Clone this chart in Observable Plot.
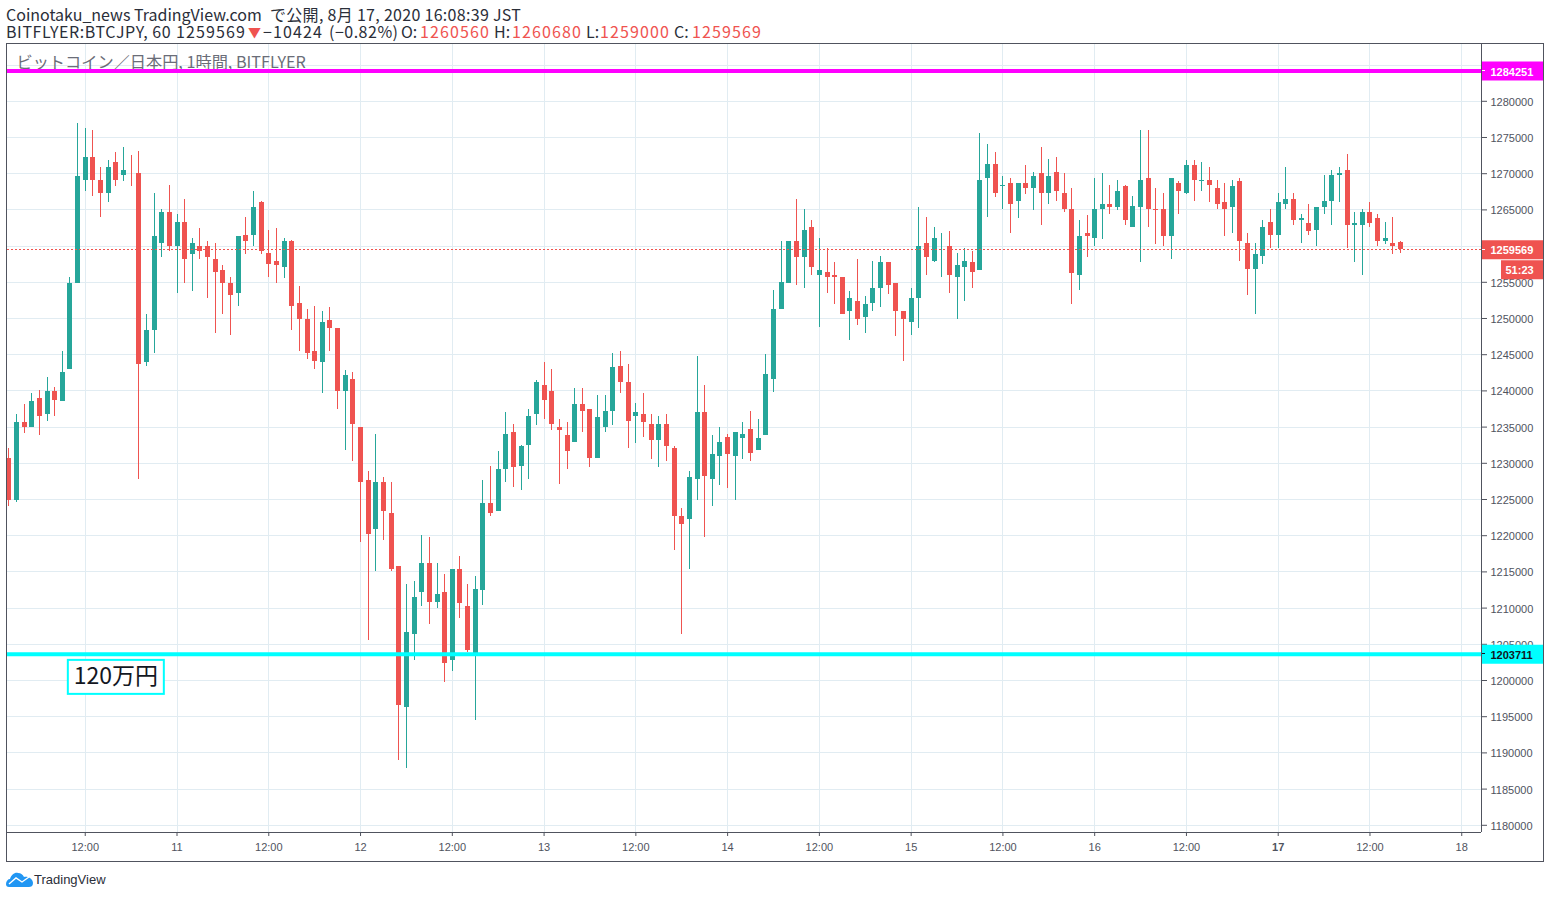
<!DOCTYPE html>
<html lang="ja">
<head>
<meta charset="utf-8">
<style>
html,body{margin:0;padding:0;background:#fff;width:1550px;height:898px;overflow:hidden}
#head{position:absolute;left:0;top:0;width:1550px;height:43px;font:16px/17px "Noto Sans CJK JP","Noto Sans",sans-serif;color:#2a2e39;white-space:nowrap}
#head span{position:absolute}
#head .n{letter-spacing:1.1px;top:23px}
#head .l{top:23px}
#head .v{color:#ef5350}
#frame{position:absolute;left:6px;top:43px;width:1536px;height:817px;border:1px solid #50535e;pointer-events:none}
#chart{position:absolute;left:0;top:44px}
#foot{position:absolute;left:6px;top:871px;display:flex;align-items:center;font:13px/17px "Liberation Sans",sans-serif;color:#2a2e39}
</style>
<script src="https://cdn.jsdelivr.net/npm/d3@7"></script>
<script src="https://cdn.jsdelivr.net/npm/@observablehq/plot@0.6"></script>
</head>
<body>
<div id="head">
<span style="left:6px;top:6px">Coinotaku_news TradingView.com</span>
<span style="left:270px;top:6px;letter-spacing:.3px">で公開, 8月 17, 2020 16:08:39 JST</span>
<span class="l" style="left:6px;letter-spacing:.6px">BITFLYER:BTCJPY, 60</span>
<span class="n" style="left:176px">1259569</span>
<span class="l v" style="left:248px;font-size:13px">▼</span>
<span class="n" style="left:263px">−10424</span>
<span class="n" style="left:329px;letter-spacing:.5px">(−0.82%)</span>
<span class="l" style="left:401px">O:</span><span class="n v" style="left:420px">1260560</span>
<span class="l" style="left:494px">H:</span><span class="n v" style="left:512px">1260680</span>
<span class="l" style="left:586px">L:</span><span class="n v" style="left:600px">1259000</span>
<span class="l" style="left:674px">C:</span><span class="n v" style="left:692px">1259569</span>
</div>
<div id="chart"></div>
<div id="frame"></div>
<div id="foot"><svg width="28" height="17" viewBox="0 0 28 17"><path d="M0 13 C0 10 2 8 4 8 C5 4 9 1 12 2 C15 2 17 4 18 6 C22 5 27 8 27 12 C27 15 25 16 23 16 L3 16 C1 16 0 15 0 13Z" fill="#2196f3"/><path d="M3 13 L10 7 L16 11 L23 6" fill="none" stroke="#fff" stroke-width="1.4"/></svg>TradingView</div>
<script>
// Hourly candles, 10 Aug 2020 02:00 JST onward, prices in thousands of yen
const opens = [1230.6,1224.8,1235.7,1234.9,1239.0,1236.7,1239.9,1238.5,1242.9,1254.9,1269.0,1272.3,1269.1,1267.3,1271.5,1269.8,1270.5,1270.0,1243.9,1248.3,1260.4,1264.6,1260.0,1263.2,1258.9,1260.0,1259.9,1258.2,1256.6,1254.9,1253.5,1261.5,1261.4,1266.0,1259.0,1257.9,1257.0,1260.7,1252.1,1249.9,1245.4,1243.9,1249.7,1248.6,1239.9,1241.6,1234.9,1227.6,1220.9,1227.3,1223.1,1215.7,1196.3,1206.3,1212.1,1216.2,1210.8,1212.1,1202.7,1215.4,1210.2,1203.7,1212.5,1224.5,1223.4,1229.2,1234.2,1229.5,1232.4,1236.8,1240.8,1239.9,1234.9,1233.9,1232.9,1238.1,1237.4,1230.7,1234.9,1237.2,1243.4,1241.2,1236.5,1236.7,1235.4,1233.2,1235.3,1232.0,1222.7,1222.2,1227.7,1237.0,1227.8,1231.0,1233.5,1230.9,1233.4,1234.6,1231.8,1233.8,1241.6,1251.3,1254.9,1260.6,1258.4,1262.6,1255.9,1256.4,1255.9,1255.7,1250.9,1252.4,1250.2,1252.1,1254.1,1257.7,1254.8,1250.9,1249.5,1252.8,1260.4,1257.9,1259.9,1260.0,1255.6,1257.1,1257.8,1256.6,1269.4,1271.3,1268.2,1268.6,1266.1,1268.7,1267.9,1270.0,1267.2,1270.2,1267.3,1265.0,1255.9,1261.7,1261.0,1265.0,1265.8,1265.3,1268.3,1262.6,1265.4,1269.4,1265.0,1265.1,1261.3,1268.6,1267.3,1271.2,1268.9,1269.0,1268.0,1266.0,1265.4,1268.9,1260.4,1256.8,1258.5,1263.2,1261.5,1265.8,1266.4,1263.6,1263.1,1262.2,1265.3,1266.2,1269.7,1270.4,1262.9,1262.9,1264.7,1263.8,1260.6,1260.3,1260.56];
const highs = [1232.0,1236.8,1238.1,1239.6,1240.0,1241.9,1240.5,1245.4,1255.6,1277.0,1276.2,1276.0,1270.9,1271.8,1272.9,1273.6,1272.5,1273.0,1250.5,1267.2,1265.0,1268.4,1264.4,1266.4,1261.0,1262.4,1260.7,1260.3,1257.3,1255.6,1261.3,1264.0,1267.5,1266.2,1262.2,1262.4,1261.0,1260.8,1254.4,1251.3,1251.7,1251.0,1251.5,1248.6,1242.8,1242.6,1235.0,1228.8,1234.0,1228.0,1227.4,1215.7,1213.3,1213.7,1220.0,1219.8,1216.2,1214.7,1215.4,1217.1,1213.2,1214.4,1227.6,1229.5,1231.6,1237.0,1235.3,1232.4,1237.5,1241.5,1243.9,1243.0,1236.1,1235.7,1240.4,1240.4,1237.4,1239.3,1239.3,1245.2,1245.4,1243.6,1238.2,1239.7,1236.8,1236.5,1236.7,1232.3,1223.8,1228.9,1244.7,1240.7,1233.8,1235.0,1234.0,1234.3,1235.6,1237.2,1236.0,1245.0,1253.9,1260.6,1260.6,1266.5,1265.0,1263.6,1261.0,1259.7,1257.7,1255.7,1253.7,1258.1,1253.0,1257.9,1258.6,1257.7,1254.8,1250.9,1254.1,1265.3,1264.0,1262.5,1261.7,1262.0,1259.0,1259.6,1259.2,1275.6,1274.0,1272.9,1269.6,1269.4,1268.7,1271.2,1270.1,1273.6,1272.0,1272.2,1270.0,1267.9,1263.5,1264.2,1269.4,1270.0,1268.4,1269.0,1268.4,1266.9,1276.0,1276.0,1267.9,1267.3,1269.3,1268.9,1271.8,1271.8,1271.5,1270.8,1269.0,1268.7,1269.1,1269.4,1261.8,1260.4,1263.5,1265.0,1267.3,1270.8,1267.2,1264.3,1265.7,1265.4,1269.7,1270.4,1270.9,1272.7,1264.6,1265.0,1266.0,1264.4,1263.3,1264.0,1260.68];
const lows = [1224.0,1224.6,1234.1,1234.9,1233.9,1235.8,1236.4,1238.5,1242.9,1254.9,1267.5,1266.8,1264.0,1266.0,1268.2,1268.9,1268.3,1227.8,1243.4,1245.2,1258.4,1259.3,1253.4,1254.8,1253.7,1258.1,1252.8,1247.9,1250.6,1247.6,1251.6,1258.8,1259.9,1258.9,1255.7,1254.9,1255.5,1248.4,1245.5,1244.4,1242.9,1239.7,1245.5,1237.4,1231.8,1230.2,1219.1,1205.5,1215.0,1219.4,1215.0,1188.9,1187.8,1202.7,1210.2,1207.8,1209.9,1199.7,1201.2,1208.6,1203.9,1194.5,1210.4,1222.7,1223.4,1227.3,1226.6,1226.2,1227.8,1235.2,1236.0,1234.5,1227.1,1229.1,1232.9,1234.2,1229.4,1230.7,1234.3,1235.2,1239.6,1232.1,1232.8,1233.6,1230.5,1229.4,1230.2,1217.9,1206.4,1215.4,1224.9,1219.8,1224.1,1226.9,1226.5,1224.8,1230.5,1230.2,1231.8,1233.8,1239.8,1251.3,1254.9,1254.5,1254.2,1255.9,1248.8,1253.4,1251.9,1250.5,1246.9,1249.0,1247.9,1250.9,1251.5,1253.3,1247.5,1244.1,1247.7,1248.6,1255.9,1257.7,1255.7,1253.4,1249.8,1252.3,1254.1,1256.6,1263.9,1266.7,1265.0,1261.8,1263.8,1267.1,1264.9,1262.9,1265.8,1266.2,1264.6,1252.0,1253.9,1258.4,1259.9,1260.9,1264.3,1264.9,1262.8,1262.6,1257.8,1262.6,1260.2,1259.9,1258.2,1264.3,1267.1,1266.1,1267.5,1266.0,1265.0,1261.3,1261.8,1257.9,1253.2,1250.5,1257.4,1259.7,1259.7,1265.0,1262.9,1260.4,1261.4,1259.9,1264.4,1262.9,1266.0,1259.7,1257.8,1256.0,1262.6,1260.0,1260.2,1258.9,1259.0];
const closes = [1224.8,1235.7,1235.0,1238.5,1236.5,1239.9,1238.7,1242.5,1254.8,1269.6,1272.3,1269.0,1267.2,1270.8,1269.1,1270.5,1270.4,1243.7,1248.4,1261.3,1264.6,1259.9,1263.2,1258.2,1260.3,1259.2,1258.4,1256.4,1254.8,1253.2,1261.3,1260.7,1265.4,1259.3,1257.4,1257.3,1260.7,1251.6,1249.8,1245.2,1244.0,1249.4,1248.6,1239.9,1242.1,1235.3,1227.4,1220.2,1227.3,1223.3,1215.4,1196.5,1206.6,1211.5,1216.2,1210.8,1211.9,1202.3,1215.4,1210.6,1204.2,1212.6,1224.5,1223.0,1229.1,1234.0,1229.4,1232.3,1236.5,1241.2,1238.7,1235.3,1234.5,1231.6,1238.1,1237.2,1230.7,1236.3,1237.2,1243.2,1241.1,1235.8,1237.0,1235.7,1233.2,1235.3,1232.3,1222.6,1221.6,1228.0,1237.0,1228.2,1231.2,1232.9,1231.2,1234.3,1234.0,1231.3,1233.4,1242.3,1251.3,1255.0,1260.6,1258.4,1262.1,1257.1,1256.6,1255.7,1255.6,1250.5,1252.7,1249.8,1252.0,1254.2,1257.7,1254.6,1251.0,1249.8,1252.7,1260.0,1258.4,1261.1,1260.0,1255.9,1257.3,1257.9,1256.3,1269.1,1271.3,1267.2,1268.4,1265.8,1268.7,1267.9,1269.6,1267.2,1269.6,1267.5,1265.1,1256.2,1261.3,1261.3,1265.1,1265.8,1265.3,1267.5,1263.6,1265.5,1269.0,1265.1,1264.9,1261.3,1269.3,1267.6,1271.2,1269.0,1269.0,1268.4,1265.8,1265.0,1268.2,1260.7,1256.8,1258.9,1262.6,1261.5,1266.0,1266.4,1263.6,1263.8,1262.0,1265.4,1266.1,1269.8,1270.0,1262.9,1263.1,1264.7,1263.1,1260.6,1261.0,1260.0,1259.569];

const firstCandle = Date.UTC(2020, 7, 10, 2);
const hour = 3600000;
const candles = opens.map((o, i) => ({
  t: new Date(firstCandle + i * hour),
  o: o * 1000, h: highs[i] * 1000, l: lows[i] * 1000, c: closes[i] * 1000
}));

const up = "#26a69a", down = "#ef5350", grid = "#e1ecf2", axisColor = "#50535e";
const colorOf = d => d.c >= d.o ? up : down;

const yTicks = [1180000,1185000,1190000,1195000,1200000,1205000,1210000,1215000,1220000,1225000,1230000,1235000,1240000,1245000,1250000,1255000,1260000,1265000,1270000,1275000,1280000,1285000];
const xDays = ["2020-08-11","2020-08-12","2020-08-13","2020-08-14","2020-08-15","2020-08-16","2020-08-18"];
const xNoons = ["2020-08-10","2020-08-11","2020-08-12","2020-08-13","2020-08-14","2020-08-15","2020-08-16","2020-08-17"];
const dayTicks = xDays.map(d => new Date(d + "T00:00Z"));
const noonTicks = xNoons.map(d => new Date(d + "T12:00Z"));
const boldDay = [new Date("2020-08-17T00:00Z")];
const allX = [...dayTicks, ...boldDay, ...noonTicks];

const resistance = 1284251, support = 1203711, lastPrice = 1259569;
const priceTags = [
  {p: resistance, bg: "#ff00ff", fg: "#ffffff"},
  {p: lastPrice, bg: down, fg: "#ffffff"},
  {p: support, bg: "#00ffff", fg: "#131722"}
];
const note = {t: new Date(Date.UTC(2020, 7, 10, 16)), p: 1200500, text: "120万円"};
const symbolTitle = "ビットコイン／日本円, 1時間, BITFLYER";
const countdown = "51:23";

const axisFont = '"Liberation Sans",sans-serif';
const xFmt = d => d.getUTCHours() === 12 ? "12:00" : String(d.getUTCDate());
const frameWidth = 1474;
const xEnd = new Date(Date.UTC(2020, 7, 18, 2, 35));
const yLow = 1179006;

const plot = Plot.plot({
  width: 1550, height: 818,
  marginLeft: 7, marginRight: 69, marginTop: 0, marginBottom: 30,
  style: {background: "#fff", overflow: "visible"},
  x: {type: "utc", domain: [new Date(Date.UTC(2020, 7, 10, 1, 50)), xEnd]},
  y: {domain: [yLow, 1287845]},
  marks: [
    Plot.ruleY(yTicks, {stroke: grid, shapeRendering: "crispEdges"}),
    Plot.ruleX(allX, {stroke: grid, shapeRendering: "crispEdges"}),
    Plot.axisY({anchor: "right", ticks: yTicks, tickFormat: null, text: null, label: null, tickSize: 5, color: axisColor}),
    Plot.text(yTicks, {y: d => d, text: d => String(d), frameAnchor: "right", textAnchor: "start", dx: 9, dy: 1, fontSize: 11, fontFamily: axisFont, fill: axisColor}),
    Plot.axisX({anchor: "bottom", ticks: [...dayTicks, ...noonTicks], tickFormat: xFmt, label: null, tickSize: 4, tickPadding: 7, fontSize: 11, fontFamily: axisFont, color: axisColor}),
    Plot.axisX({anchor: "bottom", ticks: boldDay, tickFormat: xFmt, label: null, tickSize: 4, tickPadding: 7, fontSize: 11, fontWeight: 700, fontFamily: axisFont, color: axisColor}),
    Plot.text([symbolTitle], {frameAnchor: "top-left", dx: 9, dy: 12, fontSize: 16.2, fill: "#6a6d78", fontFamily: '"Noto Sans CJK JP",sans-serif'}),
    Plot.ruleX(candles, {x: "t", y1: "l", y2: "h", stroke: colorOf, strokeWidth: 1, clip: "frame", shapeRendering: "crispEdges"}),
    Plot.ruleX(candles, {x: "t", y1: "o", y2: "c", stroke: colorOf, strokeWidth: 5, clip: "frame", shapeRendering: "crispEdges"}),
    Plot.ruleY([lastPrice], {stroke: down, strokeWidth: 1, strokeDasharray: "2,2", shapeRendering: "crispEdges"}),
    Plot.ruleY([resistance], {stroke: "#ff00ff", strokeWidth: 4, dy: 0.5}),
    Plot.ruleY([support], {stroke: "#00ffff", strokeWidth: 4, dy: 0.5}),
    Plot.rect([note], {x1: "t", x2: "t", y1: "p", y2: "p", dx: 0.5, dy: 0.5, insetLeft: -48, insetRight: -48, insetTop: -17, insetBottom: -17, fill: "#fff", stroke: "#00ffff", strokeWidth: 2}),
    Plot.text([note], {x: "t", y: "p", text: "text", fontSize: 23, fill: "#131722", fontFamily: '"Noto Sans CJK JP",sans-serif'}),
    ...priceTags.flatMap(g => [
      Plot.ruleY([g.p], {stroke: g.bg, strokeWidth: 19, insetLeft: frameWidth, insetRight: -62, dy: 0.5}),
      Plot.ruleY([g.p], {stroke: g.fg, strokeWidth: 1, insetLeft: frameWidth, insetRight: -4, shapeRendering: "crispEdges"}),
      Plot.text([g.p], {y: d => d, text: d => String(d), frameAnchor: "right", textAnchor: "start", dx: 9, dy: 1.5, fontSize: 11, fontWeight: 700, fill: g.fg, fontFamily: axisFont})
    ]),
    Plot.ruleY([lastPrice], {stroke: down, strokeWidth: 19, dy: 20.5, insetLeft: frameWidth + 20, insetRight: -62}),
    Plot.text([lastPrice], {y: d => d, text: () => countdown, dy: 21.5, frameAnchor: "right", textAnchor: "start", dx: 24, fontSize: 11, fontWeight: 700, fill: "#fff", fontFamily: axisFont}),
    Plot.ruleY([yLow], {stroke: axisColor, shapeRendering: "crispEdges"}),
    Plot.ruleX([xEnd], {stroke: axisColor, shapeRendering: "crispEdges"})
  ]
});
document.getElementById("chart").appendChild(plot);
</script>
</body>
</html>
